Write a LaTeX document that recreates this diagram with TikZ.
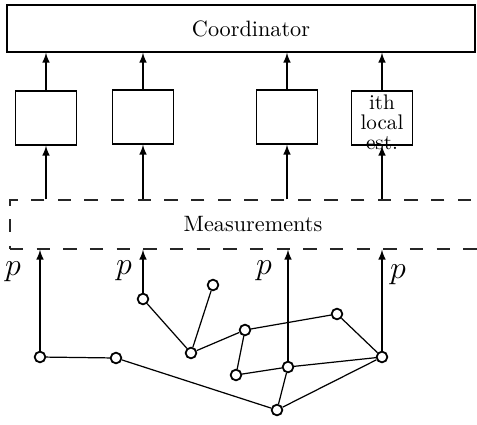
\documentclass[tikz,border=0pt]{standalone}
\usetikzlibrary{arrows}
\tikzset{
	blk/.style = {draw, rectangle, semithick, inner sep=0pt},
	dsh/.style = {draw=black!85, semithick, dash pattern=on 6pt off 6pt},
	vtx/.style = {circle, draw, thick, fill=white, inner sep=0pt, minimum size=4.8pt},
}
\begin{document}
\begin{tikzpicture}[x=0.45pt, y=-0.45pt, >=latex, line width=0.55pt]
	\useasboundingbox (0,0) rectangle (477,424);
	\node (coord) at (241, 28.5)	[blk, minimum width=210.6pt, minimum height=21.15pt]	{\hspace*{9pt}Coordinator};
	\node (e1) at ( 46, 118)	[blk, minimum width=27.45pt, minimum height=24.3pt]	{};
	\node (e2) at (143, 117)	[blk, minimum width=27.45pt, minimum height=24.3pt]	{};
	\node (e3) at (287, 117)	[blk, minimum width=27.45pt, minimum height=24.3pt]	{};
	\node (e4) at (382, 118)	[blk, minimum width=27.45pt, minimum height=24.3pt]	{};
	\node at (382, 122)	[align=center, font=\fontsize{9.5}{9}\selectfont]	{ith\\local\\est.};
	\node (meas) at (253, 224.5)	[rectangle, dsh, minimum width=218.7pt, minimum height=22.05pt]	{Measurements};
	\draw[->] (e1) -- (e1 |- coord.south);
	\draw[->] (e2) -- (e2 |- coord.south);
	\draw[->] (e3) -- (e3 |- coord.south);
	\draw[->] (e4) -- (e4 |- coord.south);
	\draw[->] (e1 |- meas.north) -- (e1.south);
	\draw[->] (e2 |- meas.north) -- (e2.south);
	\draw[->] (e3 |- meas.north) -- (e3.south);
	\draw[->] (e4 |- meas.north) -- (e4.south);
	\node (n1) at ( 40, 357)	[vtx]	{};
	\node (n2) at (116, 358)	[vtx]	{};
	\node (n3) at (143, 299)	[vtx]	{};
	\node (n4) at (213, 285)	[vtx]	{};
	\node (n5) at (191, 353)	[vtx]	{};
	\node (n6) at (245, 330)	[vtx]	{};
	\node (n7) at (337, 314)	[vtx]	{};
	\node (n8) at (382, 357)	[vtx]	{};
	\node (n9) at (236, 375)	[vtx]	{};
	\node (n10) at (288, 367)	[vtx]	{};
	\node (n11) at (277, 410)	[vtx]	{};
	\draw (n1) -- (n2);
	\draw (n2) -- (n11);
	\draw (n3) -- (n5);
	\draw (n4) -- (n5);
	\draw (n5) -- (n6);
	\draw (n6) -- (n7);
	\draw (n7) -- (n8);
	\draw (n6) -- (n9);
	\draw (n9) -- (n10);
	\draw (n10) -- (n8);
	\draw (n10) -- (n11);
	\draw (n11) -- (n8);
	\draw[->] (n1) -- (n1 |- meas.south);
	\draw[->] (n3) -- (n3 |- meas.south);
	\draw[->] (n10) -- (n10 |- meas.south);
	\draw[->] (n8) -- (n8 |- meas.south);
	\node (p1) at ( 13, 272)	{\Large $p$};
	\node (p2) at (124, 271)	{\Large $p$};
	\node (p3) at (264, 271)	{\Large $p$};
	\node (p4) at (398, 275)	{\Large $p$};
\end{tikzpicture}
\end{document}
